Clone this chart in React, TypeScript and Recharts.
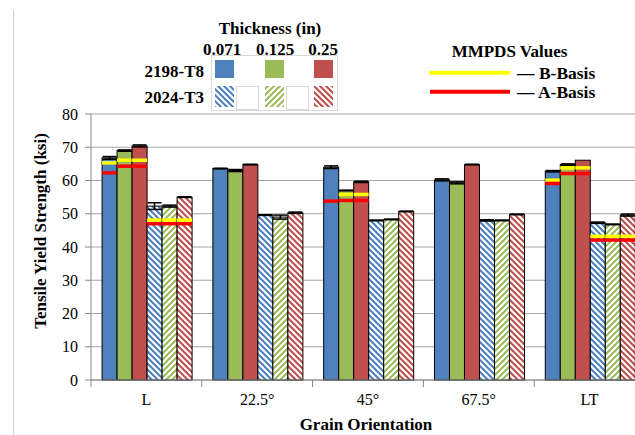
import React from 'react';
import { BarChart, Bar, XAxis, YAxis, CartesianGrid, ErrorBar } from 'recharts';

const FONT = '"Liberation Serif", "Times New Roman", serif';

const categories = ['L', '22.5°', '45°', '67.5°', 'LT'];
const thicknessLabels = ['0.071', '0.125', '0.25'];
const alloyLabels = ['2198-T8', '2024-T3'];
const basisLabels = ['B-Basis', 'A-Basis'];
const yTicks = [0, 10, 20, 30, 40, 50, 60, 70, 80];

// Tensile yield strength (ksi)
const t8_071 = [66.8, 63.6, 64.0, 60.2, 62.8];
const t8_125 = [69.0, 63.0, 57.0, 59.3, 64.8];
const t8_250 = [70.4, 64.8, 59.6, 64.8, 66.1];
const t3_071 = [52.3, 49.6, 48.0, 48.0, 47.3];
const t3_125 = [52.3, 49.0, 48.3, 48.0, 46.8];
const t3_250 = [55.0, 50.3, 50.7, 49.8, 49.6];

// error (+/-)
const err_t8_071 = [0.4, 0.1, 0.4, 0.3, 0.2];
const err_t8_125 = [0.2, 0.3, 0.1, 0.3, 0.2];
const err_t8_250 = [0.3, 0.1, 0.2, 0.1, 0.0];
const err_t3_071 = [1.0, 0.1, 0.1, 0.2, 0.2];
const err_t3_125 = [0.3, 0.6, 0.1, 0.1, 0.1];
const err_t3_250 = [0.1, 0.2, 0.1, 0.1, 0.3];

// MMPDS B-basis
const bBasis_t8_071 = [65.3, null, null, null, 60.1];
const bBasis_t8_125 = [66.1, null, 55.8, null, 63.8];
const bBasis_t8_250 = [66.1, null, 55.8, null, 63.8];
const bBasis_t3 = [48.1, null, null, null, 43.2];
// MMPDS A-basis
const aBasis_t8_071 = [62.3, null, 53.8, null, 59.1];
const aBasis_t8_125 = [64.3, null, 54.0, null, 62.1];
const aBasis_t8_250 = [64.3, null, 54.0, null, 62.1];
const aBasis_t3 = [47.0, null, null, null, 42.1];

const BLUE = '#4f81bd';
const GREEN = '#9bbb59';
const RED = '#c0504d';

const series = [
  { v: t8_071, e: err_t8_071, b: bBasis_t8_071, a: aBasis_t8_071, fill: BLUE },
  { v: t8_125, e: err_t8_125, b: bBasis_t8_125, a: aBasis_t8_125, fill: GREEN },
  { v: t8_250, e: err_t8_250, b: bBasis_t8_250, a: aBasis_t8_250, fill: RED },
  { v: t3_071, e: err_t3_071, b: bBasis_t3, a: aBasis_t3, fill: 'url(#hatchBlue)' },
  { v: t3_125, e: err_t3_125, b: bBasis_t3, a: aBasis_t3, fill: 'url(#hatchGreen)' },
  { v: t3_250, e: err_t3_250, b: bBasis_t3, a: aBasis_t3, fill: 'url(#hatchRed)' },
];

const data = categories.map((cat, i) => {
  const row: any = { cat };
  series.forEach((s, k) => {
    row[`v${k}`] = s.v[i];
    row[`e${k}`] = s.e[i];
    row[`b${k}`] = s.b[i];
    row[`a${k}`] = s.a[i];
  });
  return row;
});

const makeShape = (k: number, fill: string) => (props: any) => {
  const { x, y, width, height, payload } = props;
  const v = payload[`v${k}`];
  const b = payload[`b${k}`];
  const a = payload[`a${k}`];
  const base = y + height;
  const ppu = v ? height / v : 0;
  return (
    <g>
      <rect x={x} y={y} width={width} height={height} fill={fill} stroke="#000" strokeWidth={1} />
      {b != null && (
        <line x1={x} x2={x + width} y1={base - b * ppu} y2={base - b * ppu} stroke="#ffff00" strokeWidth={3.5} />
      )}
      {a != null && (
        <line x1={x} x2={x + width} y1={base - a * ppu} y2={base - a * ppu} stroke="#ff0000" strokeWidth={3.5} />
      )}
    </g>
  );
};

const XTick = (props: any) => {
  const { x, y, payload, width, visibleTicksCount } = props;
  const half =
    payload && typeof payload.offset === 'number' && payload.offset > 0
      ? payload.offset
      : width / (visibleTicksCount || 5) / 2;
  const axisY = y - 8;
  return (
    <g>
      <line x1={x - half} x2={x - half} y1={axisY} y2={axisY + 7} stroke="#868686" strokeWidth={1} />
      <text x={x} y={axisY + 24.5} textAnchor="middle" fontSize={16} fill="#000" fontFamily={FONT}>
        {payload.value}
      </text>
    </g>
  );
};

const Hatch = ({ id, color, up }: { id: string; color: string; up: boolean }) => (
  <pattern id={id} patternUnits="userSpaceOnUse" width="6" height="6">
    <rect width="6" height="6" fill="#ffffff" />
    <path
      d={up ? 'M-1,7 L7,-1 M-1,1 L1,-1 M5,7 L7,5' : 'M-1,-1 L7,7 M-1,5 L1,7 M5,-1 L7,1'}
      stroke={color}
      strokeWidth={2.1}
    />
  </pattern>
);

const swatchX = [215, 265, 314];
const colX = [222, 275, 323];
const solidFills = [BLUE, GREEN, RED];
const hatchFills = ['url(#hatchBlue)', 'url(#hatchGreen)', 'url(#hatchRed)'];

export default function App() {
  return (
    <div style={{ position: 'absolute', left: 0, top: 0, width: 635, height: 435, overflow: 'hidden', background: '#fff' }}>
      <svg width={0} height={0} style={{ position: 'absolute' }}>
        <defs>
          <Hatch id="hatchBlue" color={BLUE} up={false} />
          <Hatch id="hatchGreen" color={GREEN} up={true} />
          <Hatch id="hatchRed" color={RED} up={false} />
        </defs>
      </svg>
      <BarChart
        width={660}
        height={435}
        data={data}
        margin={{ top: 114, right: 15, left: 0, bottom: 0 }}
        barCategoryGap="10%"
        barGap={0}
      >
        <CartesianGrid vertical={false} stroke="#a6a6a6" strokeWidth={1} />
        <XAxis
          dataKey="cat"
          height={55}
          axisLine={{ stroke: '#868686' }}
          tickLine={false}
          tick={<XTick />}
          interval={0}
        />
        <YAxis
          width={91}
          domain={[0, 80]}
          ticks={yTicks}
          interval={0}
          axisLine={{ stroke: '#868686' }}
          tickLine={{ stroke: '#868686' }}
          tickSize={6}
          tickMargin={7}
          tick={{ fontSize: 16, fill: '#000', fontFamily: FONT }}
        />
        {series.map((s, k) => (
          <Bar key={k} dataKey={`v${k}`} fill={s.fill} isAnimationActive={false} shape={makeShape(k, s.fill)}>
            <ErrorBar dataKey={`e${k}`} width={7} strokeWidth={1.5} stroke="#000" direction="y" isAnimationActive={false} />
          </Bar>
        ))}
      </BarChart>
      <svg
        width={635}
        height={435}
        style={{ position: 'absolute', left: 0, top: 0, pointerEvents: 'none' }}
        fontFamily={FONT}
      >
        <line x1={13.5} x2={13.5} y1={10} y2={435} stroke="#d0d0d0" strokeWidth={1} />
        {/* Thickness legend */}
        <text x={270} y={28.5} textAnchor="middle" dominantBaseline="central" fontSize={17} fontWeight="bold">
          Thickness (in)
        </text>
        {thicknessLabels.map((t, i) => (
          <text key={t} x={colX[i]} y={49.5} textAnchor="middle" dominantBaseline="central" fontSize={17} fontWeight="bold">
            {t}
          </text>
        ))}
        {alloyLabels.map((t, i) => (
          <text key={t} x={204} y={i === 0 ? 71 : 97} textAnchor="end" dominantBaseline="central" fontSize={17} fontWeight="bold">
            {t}
          </text>
        ))}
        <rect x={211.5} y={55.5} width={126} height={55} fill="none" stroke="#d9d9d9" />
        <rect x={236.5} y={86.5} width={22} height={23} fill="#fff" stroke="#d9d9d9" />
        <rect x={286.5} y={86.5} width={22} height={23} fill="#fff" stroke="#d9d9d9" />
        {swatchX.map((sx, i) => (
          <rect key={`s${i}`} x={sx} y={60} width={19} height={18} fill={solidFills[i]} />
        ))}
        {swatchX.map((sx, i) => (
          <rect key={`h${i}`} x={sx} y={86} width={19} height={21} fill={hatchFills[i]} />
        ))}
        {/* MMPDS legend */}
        <text x={509.5} y={51.5} textAnchor="middle" dominantBaseline="central" fontSize={17} fontWeight="bold">
          MMPDS Values
        </text>
        <line x1={429} x2={510} y1={72.7} y2={72.7} stroke="#ffff00" strokeWidth={4} />
        <line x1={430} x2={510} y1={91.7} y2={91.7} stroke="#ff0000" strokeWidth={4} />
        {basisLabels.map((t, i) => (
          <text key={t} x={517} y={i === 0 ? 72.7 : 91.7} dominantBaseline="central" fontSize={17.5} fontWeight="bold">
            {'— ' + t}
          </text>
        ))}
        {/* Axis titles */}
        <text
          x={40}
          y={231}
          textAnchor="middle"
          dominantBaseline="central"
          fontSize={17}
          fontWeight="bold"
          transform="rotate(-90, 40, 231)"
        >
          Tensile Yield Strength (ksi)
        </text>
        <text x={366} y={424} textAnchor="middle" dominantBaseline="central" fontSize={17} fontWeight="bold">
          Grain Orientation
        </text>
      </svg>
    </div>
  );
}
